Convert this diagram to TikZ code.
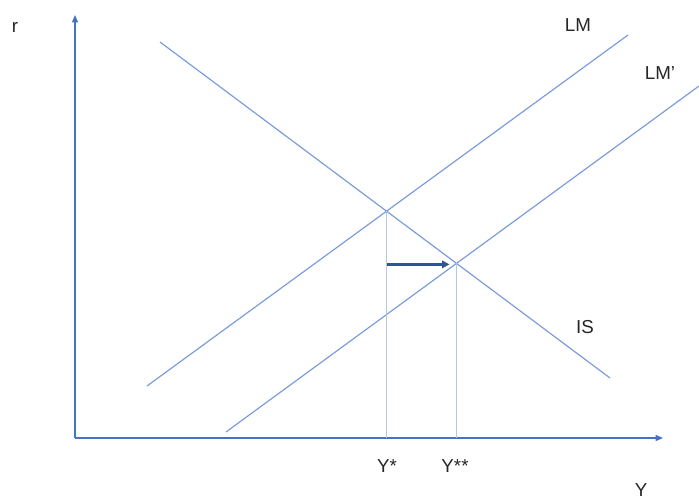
\documentclass[tikz,border=0pt]{standalone}
\usepackage{fontspec}
\setmainfont{Liberation Sans}
\usetikzlibrary{arrows.meta,intersections,calc}
\definecolor{axisblue}{HTML}{4472C4}
\definecolor{curveblue}{HTML}{7A9BDB}
\definecolor{dropblue}{HTML}{B4C7E7}
\definecolor{shiftblue}{HTML}{2F5597}
\definecolor{labelgrey}{HTML}{262626}

\begin{document}
\begin{tikzpicture}[x=0.03cm,y=-0.03cm,
  axis/.style={-{Triangle[length=2.2mm,width=1.8mm]},line width=1pt,axisblue},
  curve/.style={line width=1pt,curveblue},
  drop/.style={line width=0.8pt,dropblue},
  shiftarr/.style={-{Triangle[length=2.2mm,width=2.2mm]},line width=2.4pt,shiftblue},
  lbl/.style={font=\fontsize{16}{18}\selectfont,text=labelgrey,inner sep=0pt}]
  \useasboundingbox (0,0) rectangle (699,502);
  % axes
  \coordinate (o) at (75,438);
  \coordinate (rtop) at (75,15);
  \coordinate (yend) at (663,438);
  \draw[axis] (o) -- (rtop);
  \draw[axis] (o) -- (yend);
  % curves
  \coordinate (isa) at (160,42);
  \coordinate (isb) at (610,378);
  \coordinate (lma) at (147,386);
  \coordinate (lmb) at (628,35);
  \coordinate (lmpa) at (226,432);
  \coordinate (lmpb) at (699,86);
  \draw[curve,name path=is] (isa) -- (isb);
  \draw[curve,name path=lm] (lma) -- (lmb);
  \draw[curve,name path=lmp] (lmpa) -- (lmpb);
  \path[name intersections={of=is and lm,by=e1}];
  \path[name intersections={of=is and lmp,by=e2}];
  % equilibrium drops
  \draw[drop] (e1) -- (e1 |- o);
  \draw[drop] (e2) -- (e2 |- o);
  % shift arrow
  \coordinate (sa) at ($(e1 |- e2)+(0,1)$);
  \coordinate (sb) at ($(e2)+(-7,1)$);
  \draw[shiftarr] (sa) -- (sb);
  % labels
  \node[lbl] (rlbl) at (15,27) {r};
  \node[lbl] (ylbl) at (641,490) {Y};
  \node[lbl] (lmlbl) at (578,25) {LM};
  \node[lbl] (lmplbl) at (660,73) {LM’};
  \node[lbl] (islbl) at (585,327) {IS};
  \node[lbl] (ystar) at (387,466) {Y*};
  \node[lbl] (ystarstar) at (455,466) {Y**};
\end{tikzpicture}
\end{document}
